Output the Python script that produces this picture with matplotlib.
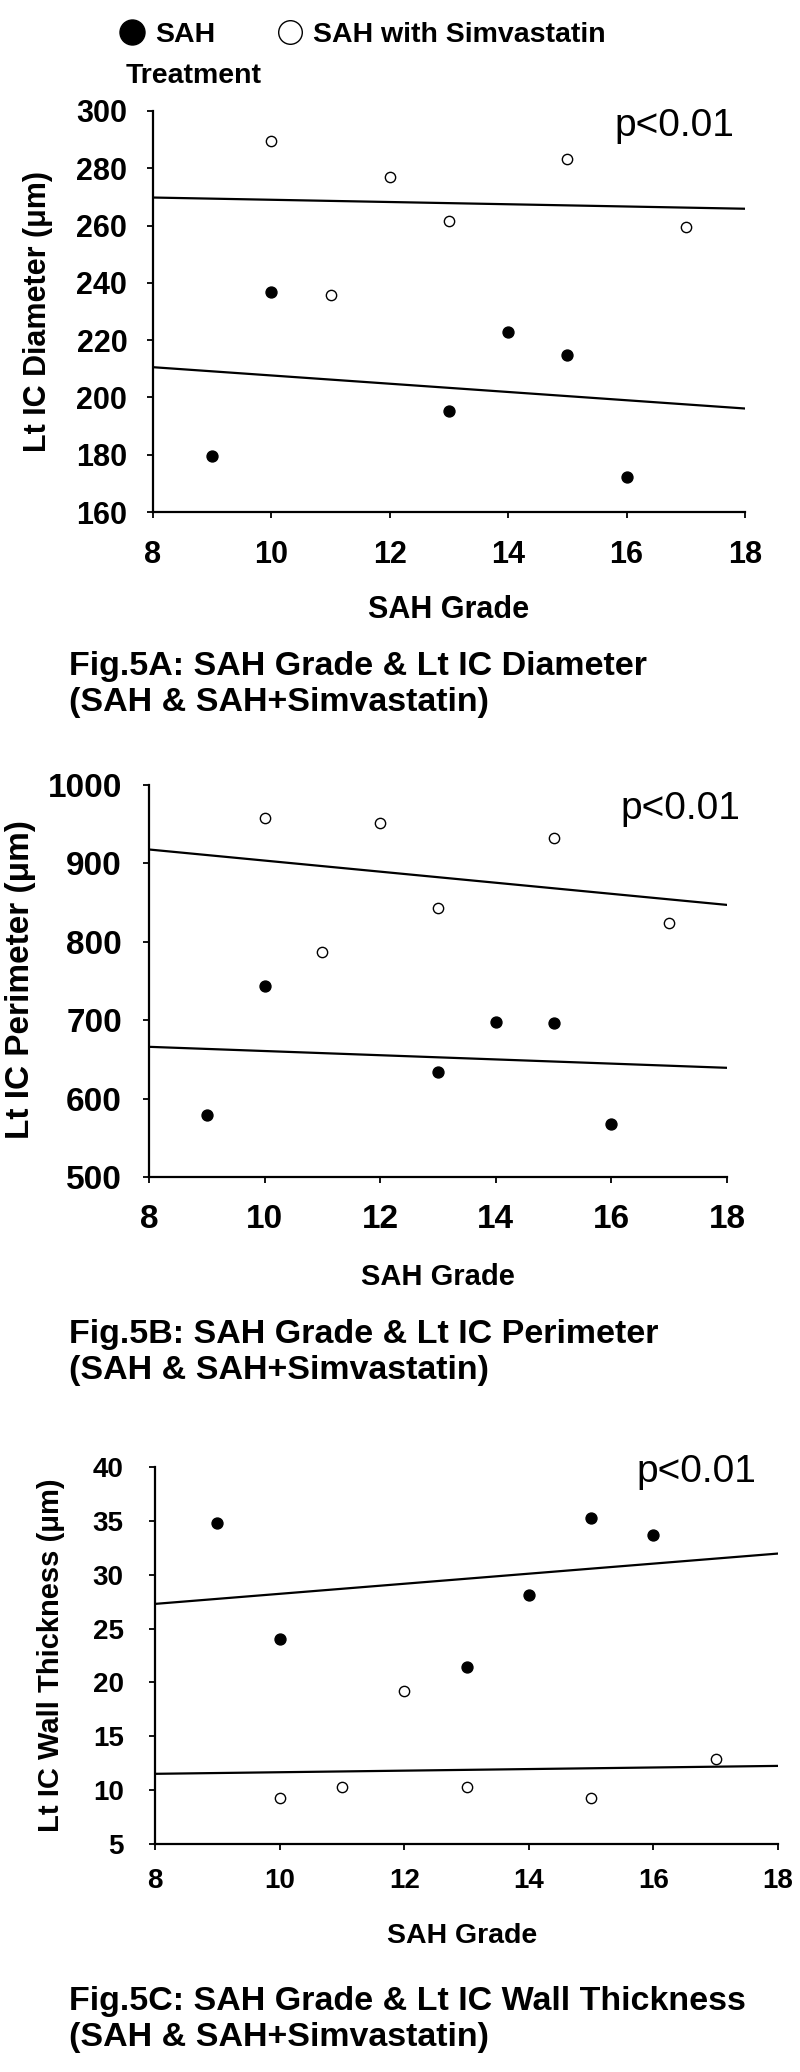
import matplotlib
matplotlib.use("Agg")
import matplotlib.pyplot as plt
import numpy as np
from matplotlib.lines import Line2D

plt.rcParams['font.family'] = ['Liberation Sans', 'DejaVu Sans']
plt.rcParams['font.weight'] = 'bold'

W, H = 800, 2072

# SAH grade of each animal
grade_sah = [9, 10, 13, 14, 15, 16]
grade_simva = [10, 11, 12, 13, 15, 17]

# Fig 5A: Lt IC diameter (um)
diam_sah = [179.5, 236.9, 195.3, 222.8, 214.7, 172.3]
diam_simva = [289.7, 235.8, 277.0, 261.7, 283.4, 259.4]

# Fig 5B: Lt IC perimeter (um)
perim_sah = [579.7, 743.7, 633.3, 698.2, 696.5, 567.2]
perim_simva = [957.9, 787.0, 951.0, 842.8, 932.2, 823.5]

# Fig 5C: Lt IC wall thickness (um)
wall_sah = [34.8, 24.0, 21.4, 28.1, 35.3, 33.7]
wall_simva = [9.3, 10.3, 19.2, 10.3, 9.3, 12.9]

x_ticks = [8, 10, 12, 14, 16, 18]


def fx(px):
    return px / W


def fy(py):
    return 1 - py / H


def axes_at(left, top, right, bottom):
    # pixel box -> figure fraction box
    return fig.add_axes([fx(left), fy(bottom), (right - left) / W, (bottom - top) / H])


def draw_panel(ax, ys, yo, ylim, ystep, tick_fs, xpad, ypad):
    ax.scatter(grade_sah, ys, s=62, color='black', zorder=3)
    ax.scatter(grade_simva, yo, s=55, facecolor='white', edgecolor='black', linewidth=1.0, zorder=3)
    # linear trend lines, like the Excel ones
    xx = np.array([8, 18])
    for gx, gy in ((grade_sah, ys), (grade_simva, yo)):
        k, b = np.polyfit(gx, gy, 1)
        ax.plot(xx, k * xx + b, color='black', lw=1.6, zorder=2)
    ax.set_xlim(8, 18)
    ax.set_ylim(*ylim)
    ax.set_xticks(x_ticks)
    ax.set_yticks(np.arange(ylim[0], ylim[1] + ystep / 2, ystep))
    for s in ('top', 'right'):
        ax.spines[s].set_visible(False)
    for s in ('left', 'bottom'):
        ax.spines[s].set_linewidth(1.6)
        ax.spines[s].set_clip_on(False)
    ax.tick_params(axis='both', direction='out', length=4.5, width=1.3, labelsize=tick_fs)
    ax.tick_params(axis='x', pad=xpad)
    ax.tick_params(axis='y', pad=ypad)
    for lab in ax.get_xticklabels() + ax.get_yticklabels():
        lab.set_fontweight('bold')


def caption(y_last, text):
    # multi-line text: the baseline given is the one of the last line
    fig.text(fx(69), fy(y_last), text, fontsize=24.5, fontweight='bold',
             va='baseline', linespacing=1.2)


fig = plt.figure(figsize=(W / 100, H / 100), dpi=100)

# legend on top
handles = [
    Line2D([], [], marker='o', ls='none', ms=18, color='black'),
    Line2D([], [], marker='o', ls='none', ms=17, markerfacecolor='white', markeredgecolor='black', markeredgewidth=1.0),
]
fig.legend(handles, ['SAH', 'SAH with Simvastatin'], ncol=2, loc='upper left',
           bbox_to_anchor=(fx(118), fy(22)), frameon=False, borderpad=0, borderaxespad=0,
           handlelength=1.0, handletextpad=0.32, columnspacing=2.1,
           prop={'size': 20.5, 'weight': 'bold'})
fig.text(fx(126), fy(83), 'Treatment', fontsize=20.5, fontweight='bold', va='baseline')

# ---- Fig 5A
axA = axes_at(153, 111, 745, 512)
draw_panel(axA, diam_sah, diam_simva, (160, 300), 20, 22, 16, 14)
fig.text(fx(449), fy(618), 'SAH Grade', fontsize=22, fontweight='bold', ha='center', va='baseline')
fig.text(fx(38), fy(312), 'Lt IC Diameter (μm)', fontsize=22, fontweight='bold',
         rotation=90, ha='center', va='center')
fig.text(fx(614), fy(136), 'p<0.01', fontsize=28, fontweight='normal', va='baseline')
caption(711, 'Fig.5A: SAH Grade & Lt IC Diameter\n(SAH & SAH+Simvastatin)')

# ---- Fig 5B
axB = axes_at(149, 785, 727, 1177)
draw_panel(axB, perim_sah, perim_simva, (500, 1000), 100, 24, 15, 15)
fig.text(fx(438), fy(1285), 'SAH Grade', fontsize=21, fontweight='bold', ha='center', va='baseline')
fig.text(fx(21), fy(980), 'Lt IC Perimeter (μm)', fontsize=24, fontweight='bold',
         rotation=90, ha='center', va='center')
fig.text(fx(620), fy(819), 'p<0.01', fontsize=28, fontweight='normal', va='baseline')
caption(1379, 'Fig.5B: SAH Grade & Lt IC Perimeter\n(SAH & SAH+Simvastatin)')

# ---- Fig 5C
axC = axes_at(155, 1467, 778, 1844)
draw_panel(axC, wall_sah, wall_simva, (5, 40), 5, 20, 13, 18)
fig.text(fx(462), fy(1943), 'SAH Grade', fontsize=20.5, fontweight='bold', ha='center', va='baseline')
fig.text(fx(51), fy(1655), 'Lt IC Wall Thickness (μm)', fontsize=21, fontweight='bold',
         rotation=90, ha='center', va='center')
fig.text(fx(636), fy(1482), 'p<0.01', fontsize=28, fontweight='normal', va='baseline')
caption(2046, 'Fig.5C: SAH Grade & Lt IC Wall Thickness\n(SAH & SAH+Simvastatin)')

fig.savefig('out.png', dpi=100, facecolor='white')
